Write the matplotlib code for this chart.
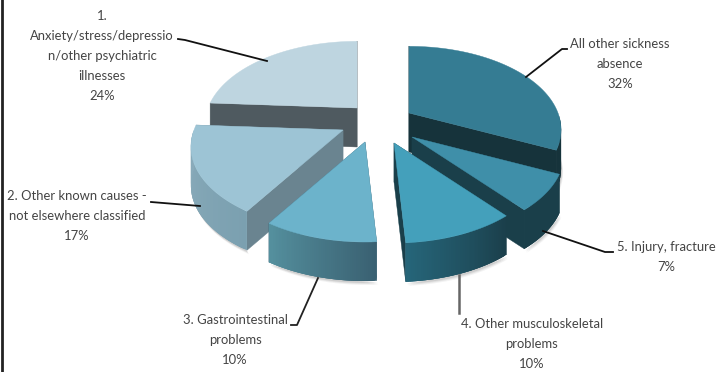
import numpy as np
import matplotlib
matplotlib.use('Agg')
import matplotlib.pyplot as plt
from matplotlib.colors import to_rgb

plt.rcParams['font.family'] = ['Lato', 'DejaVu Sans']

# data, clockwise from 12 o'clock
categories = ['All other sickness\nabsence',
              '5. Injury, fracture',
              '4. Other musculoskeletal\nproblems',
              '3. Gastrointestinal\nproblems',
              '2. Other known causes -\nnot elsewhere classified',
              '1.\nAnxiety/stress/depressio\nn/other psychiatric\nillnesses']
values = [32, 7, 10, 10, 17, 24]

# look of each slice
top_colors = ['#357c93', '#3f8fa9', '#44a0bb', '#6cb3cb', '#9dc4d5', '#bed5e0']
cut_colors = ['#16333b', '#1a3f4a', '#1a3f4a', '#3a6172', '#6a8490', '#4f5a60']
arc_from = ['#16333b', '#1a3f4a', '#1b3f4b', '#3a6172', '#7ba0b0', '#4f5a60']
arc_to = ['#16333b', '#1a3f4a', '#26667a', '#55919f', '#8cadbc', '#4f5a60']
apex_x = [409, 412, 394, 365, 343, 357]
apex_y = [113, 137, 143, 142, 130, 108]
draw_order = [5, 0, 4, 1, 3, 2]

# fake perspective of the tilted disc
rx, ry, persp, depth = 149, 80, 0.2, 39

label_x = [620, 666, 532, 235, 77, 102]
label_y = [64, 257, 344, 340, 216, 56]
leaders = [([567, 562, 526], [49, 49, 77]),
           ([613, 605, 543], [252, 252, 231]),
           ([459, 459], [275, 313]),
           ([318, 297, 291], [278, 325, 325]),
           ([151, 200], [202, 206]),
           ([178, 185, 267], [39, 40, 61])]
leader_colors = ['#111111', '#111111', '#666666', '#222222', '#111111', '#111111']


def rim(ang, x0, y0):
    a = np.radians(ang)
    X, Y = np.sin(a), np.cos(a)
    d = 1 + persp * Y
    return x0 + rx * X / d, y0 - ry * Y / d


def mix(c1, c2, t):
    return tuple((1 - t) * np.array(to_rgb(c1)) + t * np.array(to_rgb(c2)))


fig = plt.figure(figsize=(7.17, 3.72), dpi=100)
ax = fig.add_axes([0, 0, 1, 1])
ax.set_xlim(0, 717)
ax.set_ylim(372, 0)
ax.axis('off')

edges = np.cumsum([0] + values) * 3.6

for i in draw_order:
    a0, a1 = edges[i], edges[i + 1]
    x0, y0 = apex_x[i], apex_y[i]
    ang = np.linspace(a0, a1, 60)
    xs, ys = rim(ang, x0, y0)

    # soft shadow under the front of the slice
    front = (ang >= 90) & (ang <= 270)
    for off, al in [(4, 0.07), (3, 0.10), (2, 0.14)]:
        ax.fill(xs[front] + off * 0.5, ys[front] + depth + off, color='#555555',
                alpha=al, lw=0)

    # the two cut faces
    for a in (a0, a1):
        xe, ye = rim(a, x0, y0)
        ax.fill([x0, xe, xe, x0], [y0, ye, ye + depth, y0 + depth],
                color=cut_colors[i], lw=0.3)

    # outer wall, shaded along the arc; strips overlap so no seams show
    idx = np.where(front)[0]
    for n, j in enumerate(idx):
        k = idx[min(n + 3, len(idx) - 1)]
        if k == j:
            continue
        c = mix(arc_from[i], arc_to[i], j / (len(ang) - 1))
        seg = np.arange(j, k + 1)
        ax.fill(np.r_[xs[seg], xs[seg][::-1]],
                np.r_[ys[seg], ys[seg][::-1] + depth],
                color=c, lw=0)

    ax.fill(np.r_[x0, xs], np.r_[y0, ys], color=top_colors[i], lw=0.3)

for i in range(len(values)):
    ax.plot(leaders[i][0], leaders[i][1], color=leader_colors[i], lw=1.3 if i != 2 else 1.8,
            solid_joinstyle='round')
    ax.text(label_x[i], label_y[i], '%s\n%d%%' % (categories[i], values[i]),
            ha='center', va='center', fontsize=9.4, color='#444444',
            linespacing=1.8)

# frame line on the left edge
ax.plot([1.5, 1.5], [0, 372], color='#222222', lw=2)

fig.savefig('out.png', dpi=100)
